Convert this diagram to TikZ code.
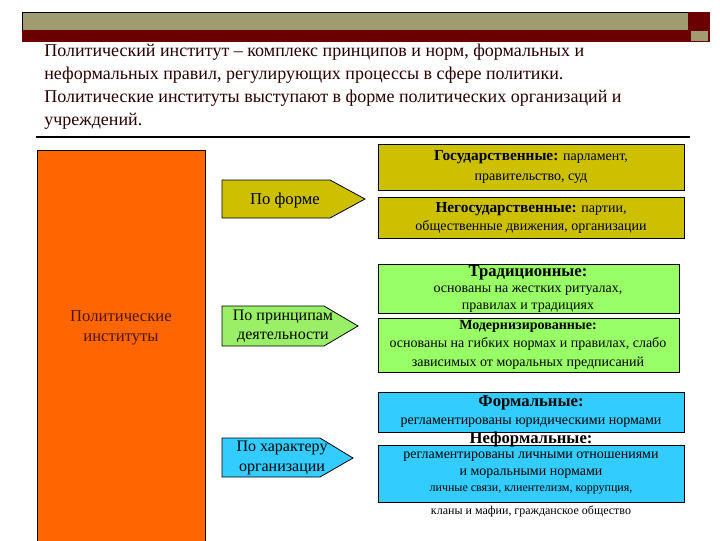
\documentclass[tikz,border=0pt]{standalone}
\usepackage{fontspec}
\setmainfont{Liberation Serif}
\begin{document}
\begin{tikzpicture}[x=0.75pt,y=-0.75pt,
  box/.style={draw=black,line width=0.6pt},
  lbl/.style={font=\fontsize{10.5}{12.5}\selectfont,align=center,text=black},
  arr/.style={box,line width=0.6pt}]
\useasboundingbox (0,0) rectangle (720,540);
\fill[white] (0,0) rectangle (720,540);
% header
\fill[fill={rgb,255:red,160;green,156;blue,112},draw=black] (22,12) rectangle (688,30);
\fill[fill={rgb,255:red,107;green,0;blue,0}] (22,30) rectangle (700,42);
\fill[fill={rgb,255:red,107;green,0;blue,0}] (688,12) rectangle (710,42);
\fill[fill={rgb,255:red,160;green,156;blue,112}] (691,31) rectangle (708,41);
\node[anchor=north west,align=left,font=\fontsize{13.5}{17.2}\selectfont,inner sep=0pt,text={rgb,255:red,40;green,0;blue,0}] (intro) at (44,44)
 {Политический институт – комплекс принципов и норм, формальных и\\неформальных правил, регулирующих процессы в сфере политики.\\Политические институты выступают в форме политических организаций и\\учреждений.};
\draw[line width=0.8pt] (36,137) -- (690,137);
% main
\fill[box,fill={rgb,255:red,255;green,102;blue,0}] (37,150) rectangle (205,545);
\node[font=\fontsize{12.5}{15}\selectfont,align=center,text={rgb,255:red,80;green,20;blue,0}] (main) at (121,328) {Политические\\институты};
% arrows
\filldraw[arr,fill={rgb,255:red,204;green,192;blue,0}] (222,180) -- (330,180) -- (365,199) -- (330,218) -- (222,218) -- cycle;
\node[font=\fontsize{12.5}{15}\selectfont] (a1) at (285,200) {По форме};
\filldraw[arr,fill={rgb,255:red,153;green,240;blue,102}] (222,306) -- (324,306) -- (358,326) -- (324,346) -- (222,346) -- cycle;
\node[font=\fontsize{12}{14.5}\selectfont,align=center] (a2) at (283,326) {По принципам\\деятельности};
\filldraw[arr,fill={rgb,255:red,51;green,204;blue,255}] (222,438) -- (320,438) -- (353,458) -- (320,477) -- (222,477) -- cycle;
\node[font=\fontsize{12}{14.5}\selectfont,align=center] (a3) at (282,458) {По характеру\\организации};
% right boxes
\filldraw[box,fill={rgb,255:red,204;green,192;blue,0}] (378,144) rectangle (684,190);
\node[lbl] (g) at (531,167) {\textbf{\fontsize{11.5}{13}\selectfont Государственные:} парламент,\\[3pt]правительство, суд};
\filldraw[box,fill={rgb,255:red,204;green,192;blue,0}] (378,197) rectangle (684,238);
\node[lbl] (ng) at (531,218) {\textbf{\fontsize{11.5}{13}\selectfont Негосударственные:} партии,\\[1pt]общественные движения, организации};
\filldraw[box,fill={rgb,255:red,153;green,255;blue,102}] (378,264) rectangle (679,313);
\node[lbl] (t) at (528,289) {\textbf{\fontsize{12.5}{14}\selectfont Традиционные:}\\основаны на жестких ритуалах,\\правилах и традициях};
\filldraw[box,fill={rgb,255:red,153;green,255;blue,102}] (378,318) rectangle (679,372);
\node[lbl] (m) at (528,345) {\textbf{Модернизированные:}\\[1pt]основаны на гибких нормах и правилах, слабо\\[2pt]зависимых от моральных предписаний};
\filldraw[box,fill={rgb,255:red,51;green,204;blue,255}] (378,392) rectangle (684,432);
\node[lbl] (f) at (531,412) {\textbf{\fontsize{12.5}{14}\selectfont Формальные:}\\[1pt]регламентированы юридическими нормами};
\filldraw[box,fill={rgb,255:red,51;green,204;blue,255}] (378,445) rectangle (684,502);
\node[lbl,font=\bfseries\fontsize{12.5}{14}\selectfont] (nfl) at (531,439) {Неформальные:};
\node[lbl] (nf) at (531,473) {регламентированы личными отношениями\\и моральными нормами\\{\fontsize{9}{10}\selectfont личные связи, клиентелизм, коррупция,}};
\node[lbl,font=\fontsize{9}{10}\selectfont] (nf2) at (531,511) {кланы и мафии, гражданское общество};
\end{tikzpicture}
\end{document}
